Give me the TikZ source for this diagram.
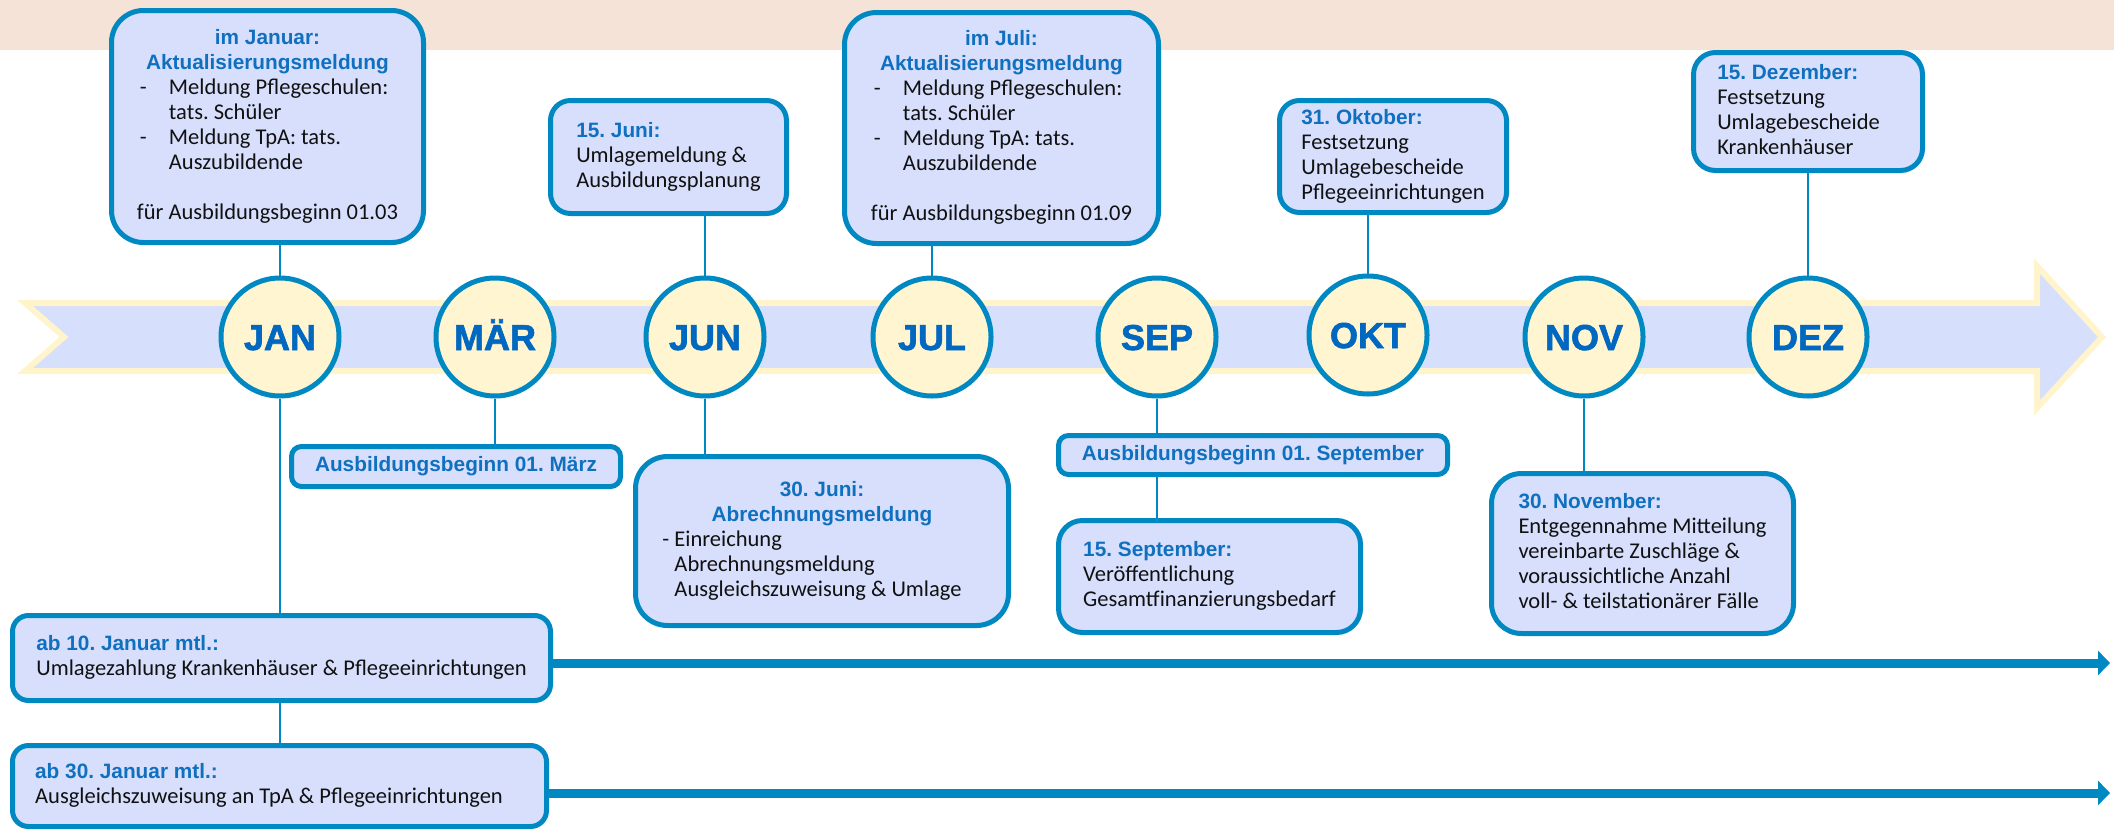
\documentclass[tikz,border=0pt]{standalone}
\usepackage{fontspec}
\setmainfont{Carlito}
\newfontfamily\hdfam{Liberation Sans}
\newfontfamily\monthfont{Liberation Sans Bold}[FakeBold=1.8]
\usetikzlibrary{arrows.meta,backgrounds}
\frenchspacing
\definecolor{topband}{HTML}{F5E3D8}
\definecolor{bandfill}{HTML}{D6DFFB}
\definecolor{bandedge}{HTML}{FFF4CC}
\definecolor{circfill}{HTML}{FFF5D0}
\definecolor{lineblue}{HTML}{0088C2}
\definecolor{boxfill}{HTML}{D7DFFC}
\definecolor{headblue}{HTML}{1070C0}
\definecolor{monthblue}{HTML}{0068C0}
\definecolor{bodytext}{HTML}{111111}
\newcommand\hdfont{\hdfam\fontsize{20.8}{25}\selectfont\bfseries\color{headblue}}
\newcommand\boxhd[1]{\multicolumn{1}{@{}c@{}}{\hdfont #1}}
\newcommand\hdl[1]{{\hdfont #1}}
\newcommand\itm[1]{\makebox[32pt][l]{\hspace{3pt}-}#1}
\newcommand\indt[1]{\hspace*{32pt}#1}
\newcommand\boxtab[2]{\begin{tabular}{@{}l@{\hspace{#1}}}#2\end{tabular}}
\tikzset{
  box/.style={draw=lineblue, fill=boxfill, line width=5pt, rounded corners=#1,
    inner sep=0pt, text=bodytext, font=\frenchspacing\fontsize{22.5}{25}\selectfont},
  box/.default=20pt,
  month/.style={circle, draw=lineblue, fill=circfill, line width=5pt,
    minimum size=118pt, inner sep=0pt, text=monthblue,
    font=\monthfont\fontsize{36}{36}\selectfont, text height=26pt, text depth=0pt},
  conn/.style={draw=lineblue, line width=2.2pt},
  flow/.style={draw=lineblue, line width=9pt, -{Triangle[length=12pt,width=24pt]}}
}
\begin{document}
\begin{tikzpicture}[x=1pt,y=-1pt]
\useasboundingbox (0,0) rectangle (2114,830);

% month circles
\node[month] (cJan) at (280,337) {JAN};
\node[month] (cMar) at (495,337) {MÄR};
\node[month] (cJun) at (705,337) {JUN};
\node[month] (cJul) at (932,337) {JUL};
\node[month] (cSep) at (1157,337) {SEP};
\node[month] (cOkt) at (1368,335) {OKT};
\node[month] (cNov) at (1584,337) {NOV};
\node[month] (cDez) at (1808,337) {DEZ};

% upper boxes
\node[box=32pt, minimum width=312pt, minimum height=232pt] (jan) at (267.5,126.5) {\boxtab{0pt}{%
\boxhd{im Januar:}\\
\boxhd{Aktualisierungsmeldung}\\
\itm{Meldung Pflegeschulen:}\\
\indt{tats. Schüler}\\
\itm{Meldung TpA: tats.}\\
\indt{Auszubildende}\\
\\
für Ausbildungsbeginn 01.03}};

\node[box=20pt, minimum width=236pt, minimum height=113pt] (jun) at (668.5,157) {\boxtab{0pt}{%
\hdl{15. Juni:}\\
Umlagemeldung \&\\
Ausbildungsplanung}};

\node[box=32pt, minimum width=314pt, minimum height=231pt] (jul) at (1001.5,128) {\boxtab{0pt}{%
\boxhd{im Juli:}\\
\boxhd{Aktualisierungsmeldung}\\
\itm{Meldung Pflegeschulen:}\\
\indt{tats. Schüler}\\
\itm{Meldung TpA: tats.}\\
\indt{Auszubildende}\\
\\
für Ausbildungsbeginn 01.09}};

\node[box=20pt, minimum width=227pt, minimum height=112pt] (okt) at (1393,156.5) {\boxtab{0pt}{%
\hdl{31. Oktober:}\\
Festsetzung\\
Umlagebescheide\\
Pflegeeinrichtungen}};

\node[box=22pt, minimum width=229pt, minimum height=118pt] (dez) at (1808,111.5) {\boxtab{19pt}{%
\hdl{15. Dezember:}\\
Festsetzung\\
Umlagebescheide\\
Krankenhäuser}};

% lower boxes
\node[box=10pt, minimum width=329pt, minimum height=40pt] (mar) at (456,466.5) {\hdl{Ausbildungsbeginn 01. März}};

\node[box=32pt, minimum width=373pt, minimum height=169pt] (abr) at (822,541) {\boxtab{20pt}{%
\boxhd{30. Juni:}\\
\boxhd{Abrechnungsmeldung}\\
- Einreichung\\
\hspace*{12pt}Abrechnungsmeldung\\
\hspace*{12pt}Ausgleichszuweisung \& Umlage}};

\node[box=10pt, minimum width=389pt, minimum height=39pt] (sepA) at (1253,455) {\hdl{Ausbildungsbeginn 01. September}};

\node[box=24pt, minimum width=302pt, minimum height=112pt] (sepB) at (1209.5,576.5) {\boxtab{0pt}{%
\hdl{15. September:}\\
Veröffentlichung\\
Gesamtfinanzierungsbedarf}};

\node[box=30pt, minimum width=302pt, minimum height=160pt] (nov) at (1642.5,553.5) {\boxtab{0pt}{%
\hdl{30. November:}\\
Entgegennahme Mitteilung\\
vereinbarte Zuschläge \&\\
voraussichtliche Anzahl\\
voll- \& teilstationärer Fälle}};

\node[box=16pt, minimum width=538pt, minimum height=85pt] (uml) at (281.5,658) {\boxtab{0pt}{%
\hdl{ab 10. Januar mtl.:}\\
Umlagezahlung Krankenhäuser \& Pflegeeinrichtungen}};

\node[box=16pt, minimum width=534pt, minimum height=81pt] (ausg) at (279.5,786) {\boxtab{21pt}{%
\hdl{ab 30. Januar mtl.:}\\
Ausgleichszuweisung an TpA \& Pflegeeinrichtungen}};

\coordinate (e1) at (2110,663);
\coordinate (e2) at (2110,793);

\begin{scope}[on background layer]
  \fill[topband] (0,0) rectangle (2114,50);
  \draw[fill=bandfill, draw=bandedge, line width=6pt, line join=miter]
    (25,303) -- (2037,303) -- (2037,266) -- (2102,337) -- (2037,408)
    -- (2037,371) -- (25,371) -- (64,337) -- cycle;
  % connectors
  \draw[conn] (cJan.north |- jan.south) -- (cJan.north);
  \draw[conn] (cJan.south) -- (cJan.south |- uml.north);
  \draw[conn] (cJan.south |- uml.south) -- (cJan.south |- ausg.north);
  \draw[conn] (cMar.south) -- (cMar.south |- mar.north);
  \draw[conn] (cJun.north |- jun.south) -- (cJun.north);
  \draw[conn] (cJun.south) -- (cJun.south |- abr.north);
  \draw[conn] (cJul.north |- jul.south) -- (cJul.north);
  \draw[conn] (cSep.south) -- (cSep.south |- sepA.north);
  \draw[conn] (cSep.south |- sepA.south) -- (cSep.south |- sepB.north);
  \draw[conn] (cOkt.north |- okt.south) -- (cOkt.north);
  \draw[conn] (cNov.south) -- (cNov.south |- nov.north);
  \draw[conn] (cDez.north |- dez.south) -- (cDez.north);
  % monthly flows
  \draw[flow] (uml.east |- e1) -- (e1);
  \draw[flow] (ausg.east |- e2) -- (e2);
\end{scope}
\end{tikzpicture}
\end{document}
